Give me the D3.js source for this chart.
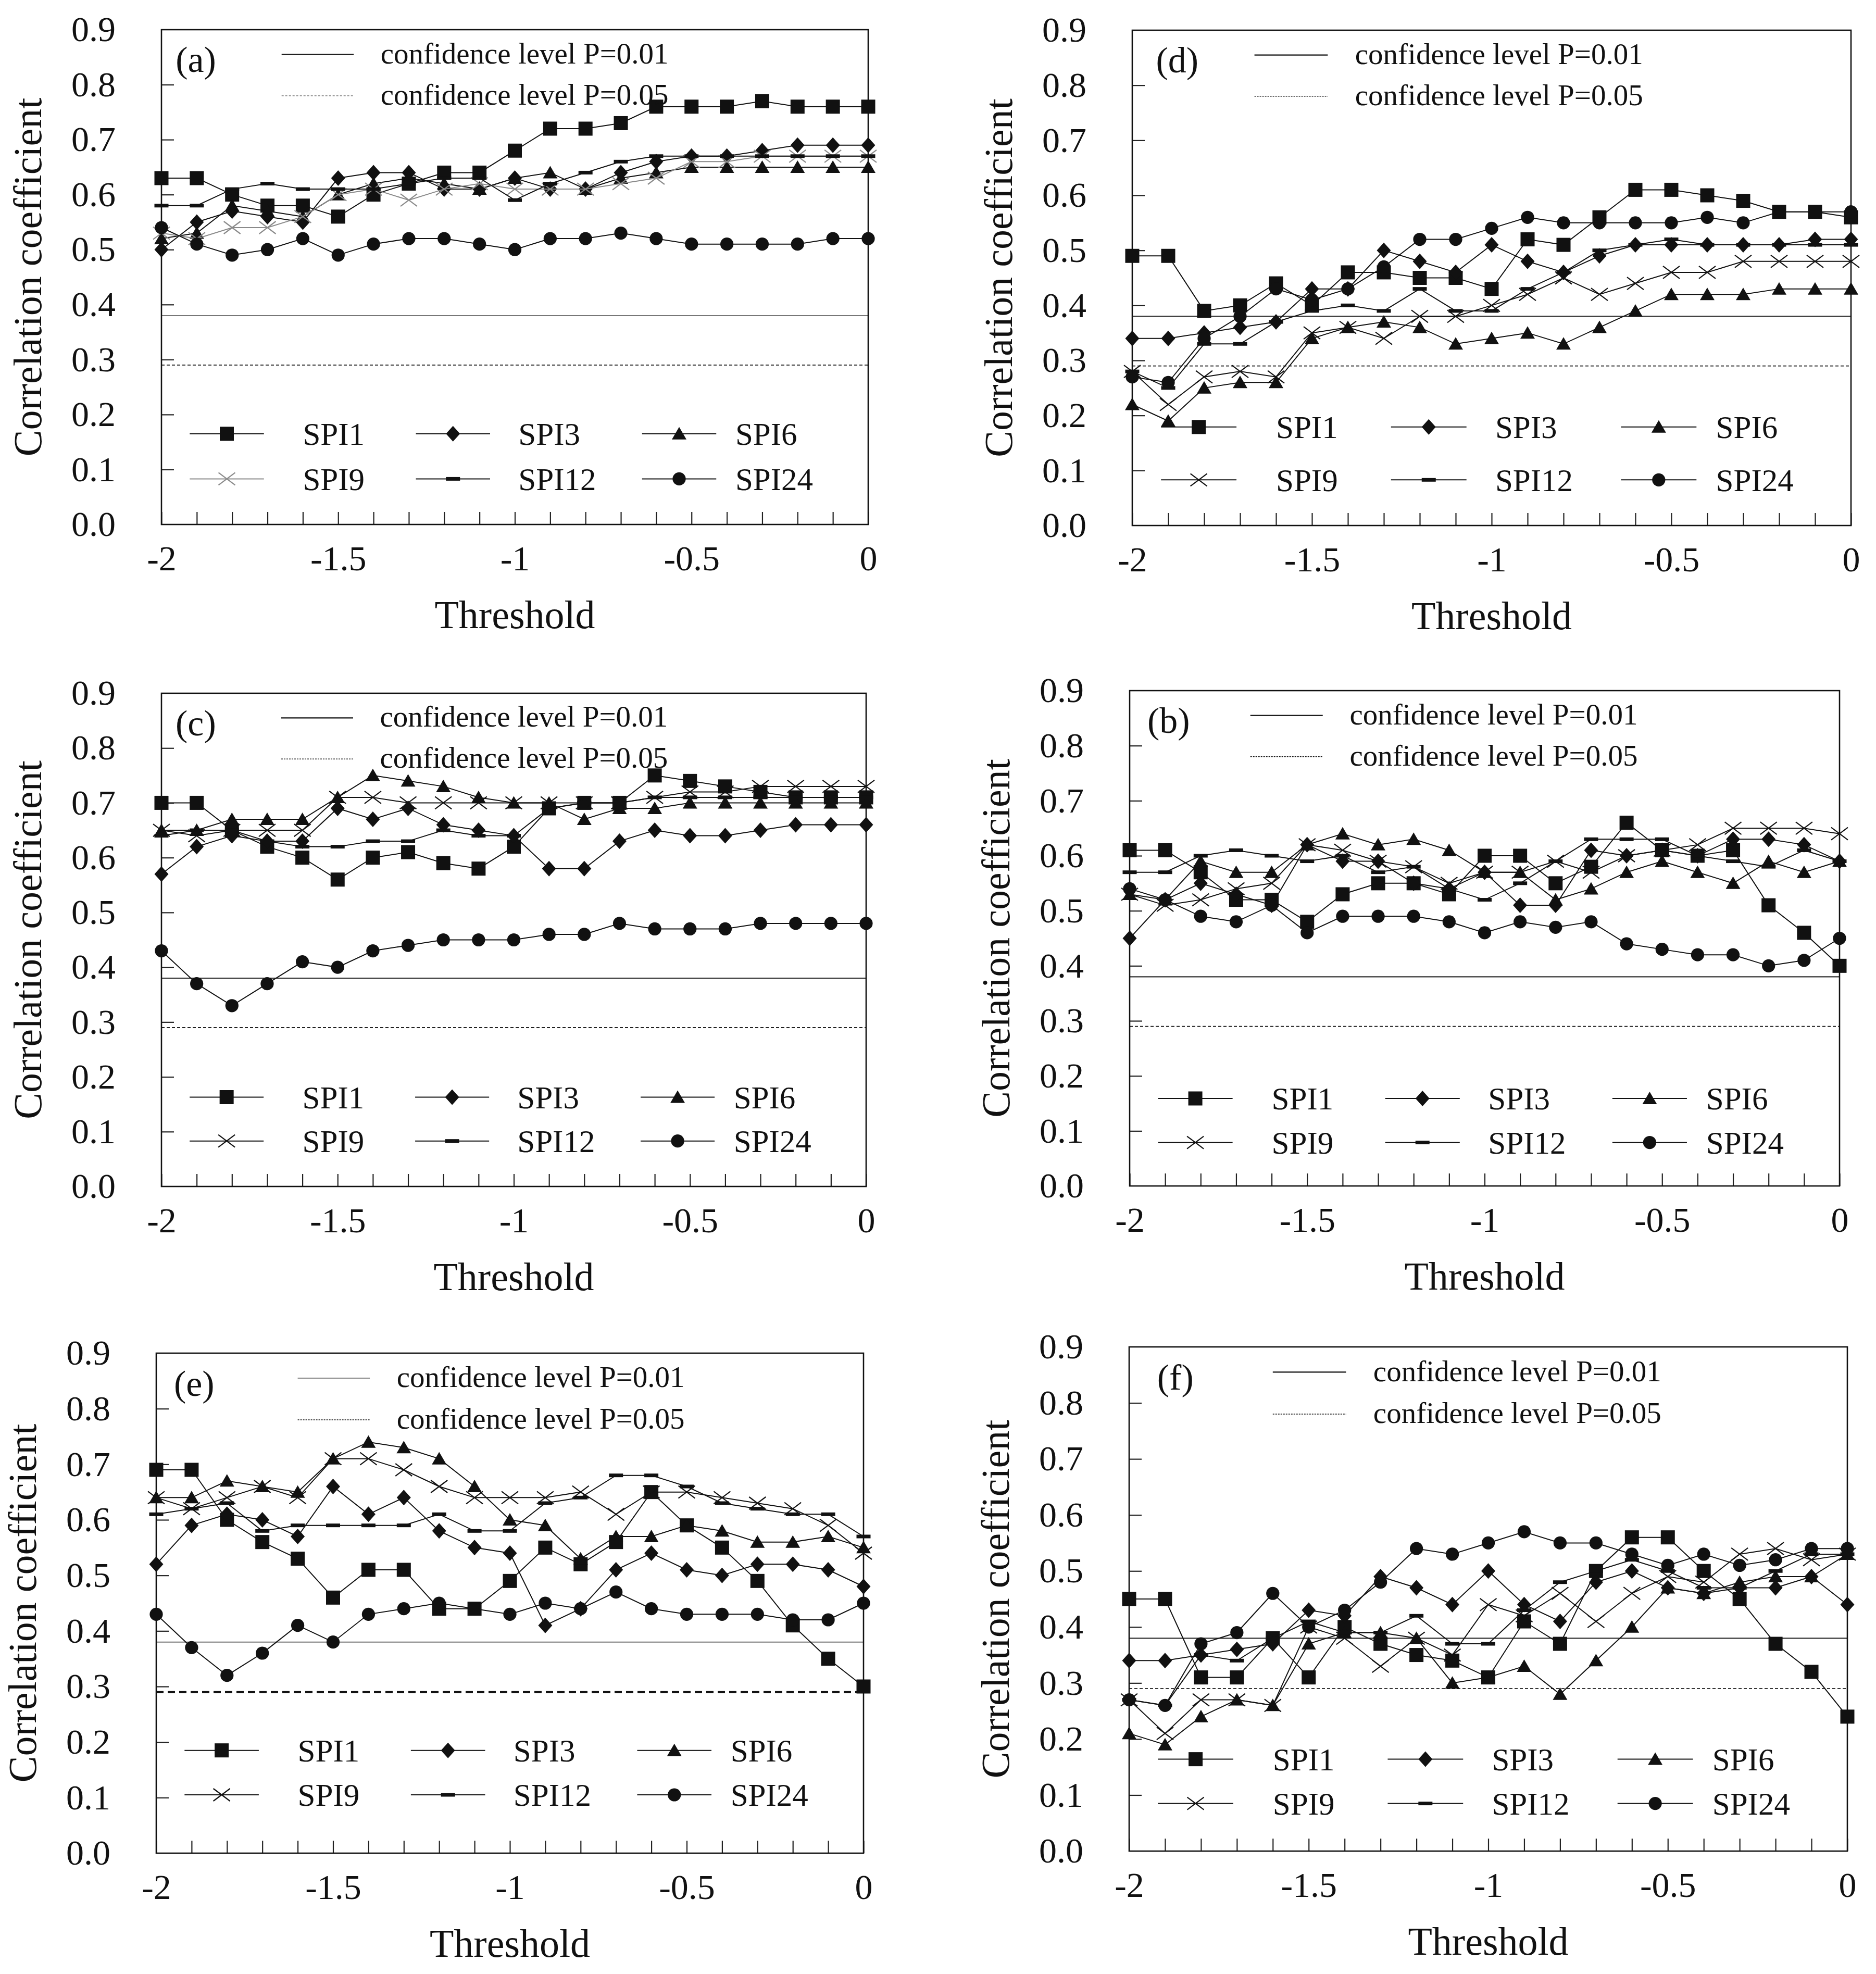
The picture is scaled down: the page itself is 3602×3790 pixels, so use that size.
<!DOCTYPE html>
<html>
<head>
<meta charset="utf-8">
<script src="https://cdn.jsdelivr.net/npm/d3@7"></script>
<style>
  body { margin: 0; background: #fff; }
  text { font-family: "Liberation Serif", "Times New Roman", serif; fill: #111; }
</style>
</head>
<body>
<svg id="chart"></svg>
<script>
// thresholds on the x axis
const thresholds = [-2, -1.9, -1.8, -1.7, -1.6, -1.5, -1.4, -1.3, -1.2, -1.1, -1,
                    -0.9, -0.8, -0.7, -0.6, -0.5, -0.4, -0.3, -0.2, -0.1, 0];
const xTickLabels = [-2, -1.5, -1, -0.5, 0];
const yTicks = [0, 0.1, 0.2, 0.3, 0.4, 0.5, 0.6, 0.7, 0.8, 0.9];
const seriesNames = ["SPI1", "SPI3", "SPI6", "SPI9", "SPI12", "SPI24"];
const confidenceP01 = 0.38;
const confidenceP05 = 0.29;

// rows: SPI1, SPI3, SPI6, SPI9, SPI12, SPI24
const panelA = [
  [0.63,0.63,0.60,0.58,0.58,0.56,0.60,0.62,0.64,0.64,0.68,0.72,0.72,0.73,0.76,0.76,0.76,0.77,0.76,0.76,0.76],
  [0.50,0.55,0.57,0.56,0.55,0.63,0.64,0.64,0.61,0.61,0.63,0.61,0.61,0.64,0.66,0.67,0.67,0.68,0.69,0.69,0.69],
  [0.52,0.53,0.58,0.57,0.56,0.60,0.62,0.63,0.62,0.61,0.63,0.64,0.61,0.63,0.64,0.65,0.65,0.65,0.65,0.65,0.65],
  [0.53,0.52,0.54,0.54,0.56,0.60,0.61,0.59,0.61,0.62,0.61,0.61,0.61,0.62,0.63,0.66,0.66,0.67,0.67,0.67,0.67],
  [0.58,0.58,0.61,0.62,0.61,0.61,0.61,0.62,0.63,0.63,0.59,0.62,0.64,0.66,0.67,0.67,0.67,0.67,0.67,0.67,0.67],
  [0.54,0.51,0.49,0.50,0.52,0.49,0.51,0.52,0.52,0.51,0.50,0.52,0.52,0.53,0.52,0.51,0.51,0.51,0.51,0.52,0.52]
];
const panelD = [
  [0.49,0.49,0.39,0.40,0.44,0.40,0.46,0.46,0.45,0.45,0.43,0.52,0.51,0.56,0.61,0.61,0.60,0.59,0.57,0.57,0.56],
  [0.34,0.34,0.35,0.36,0.37,0.43,0.43,0.50,0.48,0.46,0.51,0.48,0.46,0.49,0.51,0.51,0.51,0.51,0.51,0.52,0.52],
  [0.22,0.19,0.25,0.26,0.26,0.34,0.36,0.37,0.36,0.33,0.34,0.35,0.33,0.36,0.39,0.42,0.42,0.42,0.43,0.43,0.43],
  [0.28,0.22,0.27,0.28,0.27,0.35,0.36,0.34,0.38,0.38,0.40,0.42,0.45,0.42,0.44,0.46,0.46,0.48,0.48,0.48,0.48],
  [0.28,0.25,0.33,0.33,0.37,0.39,0.40,0.39,0.43,0.39,0.39,0.43,0.46,0.50,0.51,0.52,0.51,0.51,0.51,0.51,0.51],
  [0.27,0.26,0.34,0.38,0.43,0.41,0.43,0.47,0.52,0.52,0.54,0.56,0.55,0.55,0.55,0.55,0.56,0.55,0.57,0.57,0.57]
];
const panelC = [
  [0.70,0.70,0.65,0.62,0.60,0.56,0.60,0.61,0.59,0.58,0.62,0.69,0.70,0.70,0.75,0.74,0.73,0.72,0.71,0.71,0.71],
  [0.57,0.62,0.64,0.63,0.63,0.69,0.67,0.69,0.66,0.65,0.64,0.58,0.58,0.63,0.65,0.64,0.64,0.65,0.66,0.66,0.66],
  [0.65,0.65,0.67,0.67,0.67,0.71,0.75,0.74,0.73,0.71,0.70,0.70,0.67,0.69,0.69,0.70,0.70,0.70,0.70,0.70,0.70],
  [0.65,0.64,0.65,0.65,0.65,0.71,0.71,0.70,0.70,0.70,0.70,0.70,0.70,0.70,0.71,0.72,0.72,0.73,0.73,0.73,0.73],
  [0.64,0.65,0.65,0.63,0.62,0.62,0.63,0.63,0.65,0.64,0.64,0.69,0.70,0.70,0.71,0.71,0.71,0.71,0.71,0.71,0.71],
  [0.43,0.37,0.33,0.37,0.41,0.40,0.43,0.44,0.45,0.45,0.45,0.46,0.46,0.48,0.47,0.47,0.47,0.48,0.48,0.48,0.48]
];
const panelB = [
  [0.61,0.61,0.57,0.52,0.52,0.48,0.53,0.55,0.55,0.53,0.60,0.60,0.55,0.58,0.66,0.61,0.60,0.61,0.51,0.46,0.40],
  [0.45,0.52,0.55,0.53,0.51,0.62,0.59,0.59,0.55,0.54,0.57,0.51,0.51,0.61,0.60,0.61,0.60,0.63,0.63,0.62,0.59],
  [0.53,0.52,0.59,0.57,0.57,0.62,0.64,0.62,0.63,0.61,0.57,0.57,0.52,0.54,0.57,0.59,0.57,0.55,0.59,0.57,0.59],
  [0.53,0.51,0.52,0.54,0.55,0.62,0.61,0.59,0.58,0.55,0.57,0.57,0.59,0.57,0.60,0.61,0.62,0.65,0.65,0.65,0.64],
  [0.57,0.57,0.60,0.61,0.60,0.59,0.60,0.57,0.58,0.54,0.52,0.55,0.59,0.63,0.63,0.63,0.60,0.59,0.58,0.61,0.59],
  [0.54,0.52,0.49,0.48,0.51,0.46,0.49,0.49,0.49,0.48,0.46,0.48,0.47,0.48,0.44,0.43,0.42,0.42,0.40,0.41,0.45]
];
const panelE = [
  [0.69,0.69,0.60,0.56,0.53,0.46,0.51,0.51,0.44,0.44,0.49,0.55,0.52,0.56,0.65,0.59,0.55,0.49,0.41,0.35,0.30],
  [0.52,0.59,0.61,0.60,0.57,0.66,0.61,0.64,0.58,0.55,0.54,0.41,0.44,0.51,0.54,0.51,0.50,0.52,0.52,0.51,0.48],
  [0.64,0.64,0.67,0.66,0.65,0.71,0.74,0.73,0.71,0.66,0.60,0.59,0.53,0.57,0.57,0.59,0.58,0.56,0.56,0.57,0.55],
  [0.64,0.62,0.64,0.66,0.64,0.71,0.71,0.69,0.66,0.64,0.64,0.64,0.65,0.61,0.65,0.65,0.64,0.63,0.62,0.59,0.54],
  [0.61,0.62,0.63,0.58,0.59,0.59,0.59,0.59,0.61,0.58,0.58,0.63,0.64,0.68,0.68,0.66,0.63,0.62,0.61,0.61,0.57],
  [0.43,0.37,0.32,0.36,0.41,0.38,0.43,0.44,0.45,0.44,0.43,0.45,0.44,0.47,0.44,0.43,0.43,0.43,0.42,0.42,0.45]
];
const panelF = [
  [0.45,0.45,0.31,0.31,0.38,0.31,0.40,0.37,0.35,0.34,0.31,0.41,0.37,0.50,0.56,0.56,0.50,0.45,0.37,0.32,0.24],
  [0.34,0.34,0.35,0.36,0.37,0.43,0.42,0.49,0.47,0.44,0.50,0.44,0.41,0.48,0.50,0.47,0.46,0.47,0.47,0.49,0.44],
  [0.21,0.19,0.24,0.27,0.26,0.37,0.39,0.39,0.38,0.30,0.31,0.33,0.28,0.34,0.40,0.47,0.46,0.48,0.49,0.49,0.53],
  [0.27,0.21,0.27,0.27,0.26,0.40,0.38,0.33,0.38,0.35,0.44,0.42,0.46,0.41,0.46,0.49,0.48,0.53,0.54,0.52,0.53],
  [0.27,0.26,0.35,0.34,0.38,0.41,0.39,0.39,0.42,0.37,0.37,0.43,0.48,0.50,0.52,0.50,0.47,0.47,0.50,0.53,0.53],
  [0.27,0.26,0.37,0.39,0.46,0.40,0.43,0.48,0.54,0.53,0.55,0.57,0.55,0.55,0.53,0.51,0.53,0.51,0.52,0.54,0.54]
];

// panel placement (pixels) and small style differences
const panels = [
  { label: "(a)", data: panelA, x0: 310, x1: 1667, yTop: 57, yBot: 1007, labelX: 0.02, confX: 0, graySpi9: true, style: "a", legRows: [0.165, 0.083] },
  { label: "(d)", data: panelD, x0: 2174, x1: 3554, yTop: 58, yBot: 1009, labelX: 0.033, confX: 0, style: "n", legRows: [0.179, 0.083] },
  { label: "(c)", data: panelC, x0: 310, x1: 1663, yTop: 1331, yBot: 2278, labelX: 0.02, confX: 0, style: "n", legRows: [0.163, 0.083] },
  { label: "(b)", data: panelB, x0: 2169, x1: 3532, yTop: 1326, yBot: 2277, labelX: 0.025, confX: 0, style: "n", legRows: [0.159, 0.079] },
  { label: "(e)", data: panelE, x0: 300, x1: 1658, yTop: 2598, yBot: 3558, labelX: 0.025, confX: 0.03, style: "e", legRows: [0.185, 0.105] },
  { label: "(f)", data: panelF, x0: 2168, x1: 3547, yTop: 2586, yBot: 3554, labelX: 0.039, confX: 0.03, style: "n", legRows: [0.164, 0.085] }
];

function poly(pts) {
  return { draw(c) {
    c.moveTo(pts[0][0], pts[0][1]);
    for (let i = 1; i < pts.length; i++) c.lineTo(pts[i][0], pts[i][1]);
    c.closePath();
  } };
}
const shapes = [
  poly([[-13.5, -13.5], [13.5, -13.5], [13.5, 13.5], [-13.5, 13.5]]),   // square
  poly([[0, -15], [13.5, 0], [0, 15], [-13.5, 0]]),                    // diamond
  poly([[0, -13], [14, 11], [-14, 11]]),                                // triangle
  { draw(c) { c.moveTo(-16, -12); c.lineTo(16, 12); c.moveTo(-16, 12); c.lineTo(16, -12); } }, // cross
  poly([[-13.5, -3.5], [13.5, -3.5], [13.5, 3.5], [-13.5, 3.5]]),       // dash
  d3.symbolCircle
];
const shapeSize = [1, 1, 1, 1, 1, 500];

const svg = d3.select("#chart").attr("width", 3602).attr("height", 3790);
svg.append("rect").attr("width", 3602).attr("height", 3790).attr("fill", "#fff");

panels.forEach(p => {
  const x = d3.scaleLinear().domain([-2, 0]).range([p.x0, p.x1]);
  const y = d3.scaleLinear().domain([0, 0.9]).range([p.yBot, p.yTop]);
  const w = p.x1 - p.x0;
  const fx = f => p.x0 + f * w;
  const g = svg.append("g");

  // significance lines
  const p01Color = p.style === "n" ? "#333" : "#777";
  g.append("line").attr("x1", x(-2)).attr("x2", x(0))
    .attr("y1", y(confidenceP01)).attr("y2", y(confidenceP01))
    .attr("stroke", p01Color).attr("stroke-width", p.style === "n" ? 2.2 : 2);
  g.append("line").attr("x1", x(-2)).attr("x2", x(0))
    .attr("y1", y(confidenceP05)).attr("y2", y(confidenceP05))
    .attr("stroke", "#111")
    .attr("stroke-width", p.style === "e" ? 4 : 1.8)
    .attr("stroke-dasharray", p.style === "e" ? "14,8" : "6,4");

  // axes, inward ticks
  const yAxis = g.append("g").attr("transform", `translate(${p.x0},0)`)
    .call(d3.axisLeft(y).tickValues(yTicks).tickSize(-24).tickPadding(88)
      .tickFormat(d => d.toFixed(1)));
  const xAxis = g.append("g").attr("transform", `translate(0,${p.yBot})`)
    .call(d3.axisBottom(x).tickValues(thresholds).tickSize(-24).tickPadding(40)
      .tickFormat(d => xTickLabels.some(v => Math.abs(v - d) < 1e-9) ? String(+d.toFixed(1)) : ""));
  [yAxis, xAxis].forEach(a => {
    a.attr("font-family", null);
    a.select(".domain").remove();
    a.selectAll(".tick line").attr("stroke", "#222").attr("stroke-width", 2.2);
    a.selectAll(".tick text").attr("font-size", 68).attr("fill", "#111");
  });
  yAxis.selectAll(".tick").filter(d => d === 0 || d === 0.9).select("line").remove();

  // frame
  g.append("rect").attr("x", p.x0).attr("y", p.yTop)
    .attr("width", w).attr("height", p.yBot - p.yTop)
    .attr("fill", "none").attr("stroke", "#111").attr("stroke-width", 2.6);

  // series
  const line = d3.line().x((d, i) => x(thresholds[i])).y(d => y(d));
  p.data.forEach((vals, si) => {
    const col = (p.graySpi9 && si === 3) ? "#8a8a8a" : "#111";
    g.append("path").datum(vals).attr("d", line)
      .attr("fill", "none").attr("stroke", col).attr("stroke-width", 2);
    g.selectAll(null).data(vals).enter().append("path")
      .attr("transform", (d, i) => `translate(${x(thresholds[i])},${y(d)})`)
      .attr("d", d3.symbol().type(shapes[si]).size(shapeSize[si]))
      .attr("fill", si === 3 ? "none" : col)
      .attr("stroke", col).attr("stroke-width", si === 3 ? 2.2 : 0);
  });

  // panel letter
  g.append("text").attr("x", fx(p.labelX)).attr("y", y(0.845)).attr("dy", "0.33em")
    .attr("font-size", 70).text(p.label);

  // confidence legend
  const confRows = [0.855, 0.78];
  const confTxt = ["confidence level P=0.01", "confidence level P=0.05"];
  confRows.forEach((rv, k) => {
    let stroke = "#111", dash = null, sw = 2.2;
    if (p.style === "a" && k === 1) { stroke = "#999"; dash = "4,3"; }
    if (p.style === "e" && k === 0) { stroke = "#888"; }
    if (k === 1 && p.style !== "a") { dash = "3,2"; sw = 1.6; }
    g.append("line").attr("x1", fx(0.17 + p.confX)).attr("x2", fx(0.272 + p.confX))
      .attr("y1", y(rv)).attr("y2", y(rv))
      .attr("stroke", stroke).attr("stroke-width", sw).attr("stroke-dasharray", dash);
    g.append("text").attr("x", fx(0.31 + p.confX)).attr("y", y(rv)).attr("dy", "0.3em")
      .attr("font-size", 57).text(confTxt[k]);
  });

  // series legend, 3 columns x 2 rows
  const colLine = [[0.04, 0.145], [0.36, 0.465], [0.68, 0.785]];
  const colText = [0.2, 0.505, 0.812];
  seriesNames.forEach((name, si) => {
    const c = si % 3, r = Math.floor(si / 3);
    const ly = y(p.legRows[r]);
    const col = (p.graySpi9 && si === 3) ? "#8a8a8a" : "#111";
    g.append("line").attr("x1", fx(colLine[c][0])).attr("x2", fx(colLine[c][1]))
      .attr("y1", ly).attr("y2", ly).attr("stroke", col).attr("stroke-width", 2);
    g.append("path")
      .attr("transform", `translate(${fx((colLine[c][0] + colLine[c][1]) / 2)},${ly})`)
      .attr("d", d3.symbol().type(shapes[si]).size(shapeSize[si]))
      .attr("fill", si === 3 ? "none" : col)
      .attr("stroke", col).attr("stroke-width", si === 3 ? 2.2 : 0);
    g.append("text").attr("x", fx(colText[c])).attr("y", ly).attr("dy", "0.35em")
      .attr("font-size", 61).text(name);
  });

  // axis titles
  g.append("text").attr("x", (p.x0 + p.x1) / 2).attr("y", p.yBot + 172).attr("dy", "0.35em")
    .attr("text-anchor", "middle").attr("font-size", 76).text("Threshold");
  g.append("text")
    .attr("transform", `translate(${p.x0 - 258},${(p.yTop + p.yBot) / 2}) rotate(-90)`)
    .attr("dy", "0.35em").attr("text-anchor", "middle").attr("font-size", 76)
    .text("Correlation coefficient");
});
</script>
</body>
</html>
